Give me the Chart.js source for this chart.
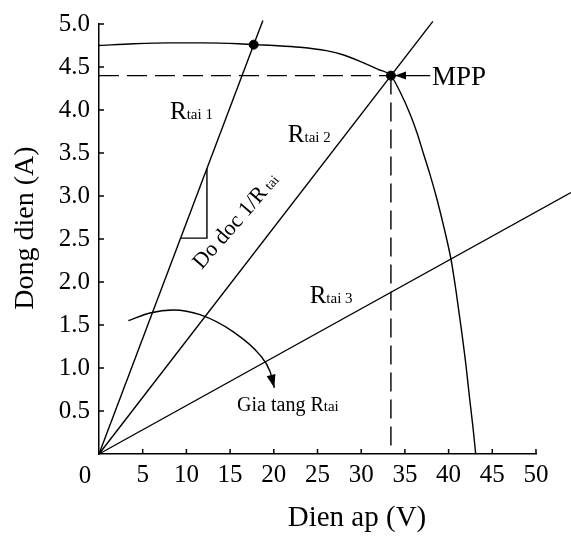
<!DOCTYPE html>
<html>
<head>
<meta charset="utf-8">
<script src="https://cdn.jsdelivr.net/npm/chart.js@4.4.1/dist/chart.umd.min.js"></script>
<style>
  html, body { margin: 0; padding: 0; background: #fff; }
</style>
</head>
<body>
<canvas id="iv-chart" width="571" height="538"></canvas>
<script>
  const serif = "'Liberation Serif', 'Times New Roman', serif";

  // Duong dac tinh I-V (doc tu hinh)
  const ivVoltage = [0, 4, 8, 12, 16, 17.7, 20, 23, 26, 28, 30, 32, 33.4, 34.5, 35.6, 36.4, 37.1, 37.9, 38.7, 39.5, 40.3, 40.9, 41.5, 42.0, 42.4, 42.8, 43.1];
  const ivCurrent = [4.75, 4.77, 4.78, 4.78, 4.77, 4.76, 4.75, 4.73, 4.69, 4.64, 4.56, 4.47, 4.40, 4.20, 3.95, 3.73, 3.50, 3.24, 2.95, 2.62, 2.25, 1.86, 1.42, 1.02, 0.65, 0.30, 0.0];

  // Duong tai R1, R2, R3 (tu goc toa do den diem cuoi)
  const loadNames = ["tai 1", "tai 2", "tai 3"];
  const loadEndV = [18.75, 38.2, 54.0];
  const loadEndI = [5.04, 5.03, 3.04];

  // Diem giao (R1) va MPP
  const markerV = [17.7, 33.4];
  const markerI = [4.76, 4.40];

  // Tam giac do doc tren R1
  const slopeV = [9.34, 12.35, 12.35];
  const slopeI = [2.51, 2.51, 3.32];

  // Mui ten cong "Gia tang R"
  const sweepV = [3.36, 5.84, 8.5, 11.56, 15.37, 18.42, 19.57, 20.06];
  const sweepI = [1.55, 1.64, 1.675, 1.62, 1.42, 1.15, 0.96, 0.77];

  // Mui ten chi MPP
  const mppArrowV = [33.87, 37.9];

  const xTickValues = [5, 10, 15, 20, 25, 30, 35, 40, 45, 50];
  const yTickValues = [0.5, 1.0, 1.5, 2.0, 2.5, 3.0, 3.5, 4.0, 4.5, 5.0];

  const pts = (xs, ys) => xs.map((v, i) => ({ x: v, y: ys[i] }));

  const lineStyle = {
    showLine: true,
    borderColor: "#000",
    borderWidth: 1.4,
    pointRadius: 0,
    fill: false
  };

  const datasets = [
    Object.assign({ data: pts(ivVoltage, ivCurrent), cubicInterpolationMode: "monotone" }, lineStyle),
    ...loadEndV.map((v, i) => Object.assign({ data: [{ x: 0, y: 0 }, { x: v, y: loadEndI[i] }], clip: false }, lineStyle)),
    Object.assign({ data: [{ x: 0, y: markerI[1] }, { x: markerV[1], y: markerI[1] }], borderDash: [20, 8] }, lineStyle),
    Object.assign({ data: [{ x: markerV[1], y: markerI[1] }, { x: markerV[1], y: 0 }], borderDash: [19, 8] }, lineStyle),
    Object.assign({ data: pts(slopeV, slopeI) }, lineStyle),
    Object.assign({ data: pts(sweepV, sweepI), cubicInterpolationMode: "monotone" }, lineStyle),
    Object.assign({ data: mppArrowV.map(v => ({ x: v, y: markerI[1] })) }, lineStyle),
    {
      data: pts(markerV, markerI),
      showLine: false,
      pointRadius: 4.5,
      pointBackgroundColor: "#000",
      pointBorderColor: "#000"
    }
  ];

  function arrowHead(ctx, tipX, tipY, fromX, fromY, len, half) {
    const a = Math.atan2(tipY - fromY, tipX - fromX);
    ctx.beginPath();
    ctx.moveTo(tipX, tipY);
    ctx.lineTo(tipX - len * Math.cos(a) + half * Math.sin(a), tipY - len * Math.sin(a) - half * Math.cos(a));
    ctx.lineTo(tipX - len * Math.cos(a) - half * Math.sin(a), tipY - len * Math.sin(a) + half * Math.cos(a));
    ctx.closePath();
    ctx.fill();
  }

  // R lon + chu nho "tai"
  function subLabel(ctx, main, sub, px, py, big, small) {
    ctx.font = big + "px " + serif;
    ctx.fillText(main, px, py);
    const w = ctx.measureText(main).width;
    ctx.font = small + "px " + serif;
    ctx.fillText(sub, px + w, py);
  }

  const annotate = {
    id: "annotate",
    afterDraw(chart) {
      const { ctx, scales: { x, y } } = chart;
      ctx.save();
      ctx.strokeStyle = "#000";
      ctx.fillStyle = "#000";
      ctx.lineWidth = 1.5;

      // vach chia huong vao trong
      yTickValues.forEach(v => {
        const py = y.getPixelForValue(v);
        ctx.beginPath(); ctx.moveTo(x.left, py); ctx.lineTo(x.left + 5, py); ctx.stroke();
      });
      xTickValues.forEach(v => {
        const px = x.getPixelForValue(v);
        ctx.beginPath(); ctx.moveTo(px, y.bottom); ctx.lineTo(px, y.bottom - 5); ctx.stroke();
      });

      // nhan 0 o goc
      ctx.font = "25px " + serif;
      ctx.textAlign = "center";
      ctx.textBaseline = "middle";
      ctx.fillText("0", x.getPixelForValue(0) - 14, y.bottom + 22);

      // mui ten
      const n = sweepV.length;
      arrowHead(ctx, x.getPixelForValue(sweepV[n - 1]), y.getPixelForValue(sweepI[n - 1]),
        x.getPixelForValue(sweepV[n - 2]), y.getPixelForValue(sweepI[n - 2]), 13, 4.5);
      arrowHead(ctx, x.getPixelForValue(mppArrowV[0]), y.getPixelForValue(markerI[1]),
        x.getPixelForValue(mppArrowV[1]), y.getPixelForValue(markerI[1]), 11, 4);

      // chu thich
      ctx.textAlign = "left";
      ctx.textBaseline = "alphabetic";
      subLabel(ctx, "R", loadNames[0], x.getPixelForValue(8.12), y.getPixelForValue(3.89), 25, 15);
      subLabel(ctx, "R", loadNames[1], x.getPixelForValue(21.6), y.getPixelForValue(3.63), 25, 15);
      subLabel(ctx, "R", loadNames[2], x.getPixelForValue(24.1), y.getPixelForValue(1.76), 25, 15);
      subLabel(ctx, "Gia tang R", "tai", x.getPixelForValue(15.8), y.getPixelForValue(0.50), 20, 15);
      ctx.font = "27px " + serif;
      ctx.fillText("MPP", x.getPixelForValue(38.1), y.getPixelForValue(4.29));

      ctx.save();
      ctx.translate(x.getPixelForValue(11.75), y.getPixelForValue(2.14));
      ctx.rotate(-49 * Math.PI / 180);
      subLabel(ctx, "Do doc 1/R", " tai", 0, 0, 22, 14);
      ctx.restore();

      // ten truc
      ctx.font = "29px " + serif;
      ctx.textAlign = "center";
      ctx.fillText("Dien ap (V)", 357, 526);
      ctx.save();
      ctx.translate(33, 228);
      ctx.rotate(-Math.PI / 2);
      ctx.font = "28px " + serif;
      ctx.fillText("Dong dien (A)", 0, 0);
      ctx.restore();

      ctx.restore();
    }
  };

  new Chart(document.getElementById("iv-chart"), {
    type: "scatter",
    data: { datasets },
    options: {
      responsive: false,
      animation: false,
      layout: { padding: { top: 16, right: 35, left: 0, bottom: 0 } },
      plugins: { legend: { display: false }, tooltip: { enabled: false } },
      scales: {
        x: {
          type: "linear",
          min: 0,
          max: 50,
          afterFit: s => { s.height = 84; },
          grid: { display: false, drawTicks: false },
          border: { display: true, color: "#000", width: 1.5 },
          ticks: {
            stepSize: 5,
            padding: 6,
            color: "#000",
            maxRotation: 0,
            autoSkip: false,
            font: { family: serif, size: 25 },
            callback: v => v === 0 ? "" : v
          }
        },
        y: {
          min: 0,
          max: 5,
          afterFit: s => { s.width = 99; },
          grid: { display: false, drawTicks: false },
          border: { display: true, color: "#000", width: 1.5 },
          ticks: {
            stepSize: 0.5,
            padding: 9,
            color: "#000",
            autoSkip: false,
            font: { family: serif, size: 25 },
            callback: v => v === 0 ? "" : v.toFixed(1)
          }
        }
      }
    },
    plugins: [annotate]
  });
</script>
</body>
</html>
